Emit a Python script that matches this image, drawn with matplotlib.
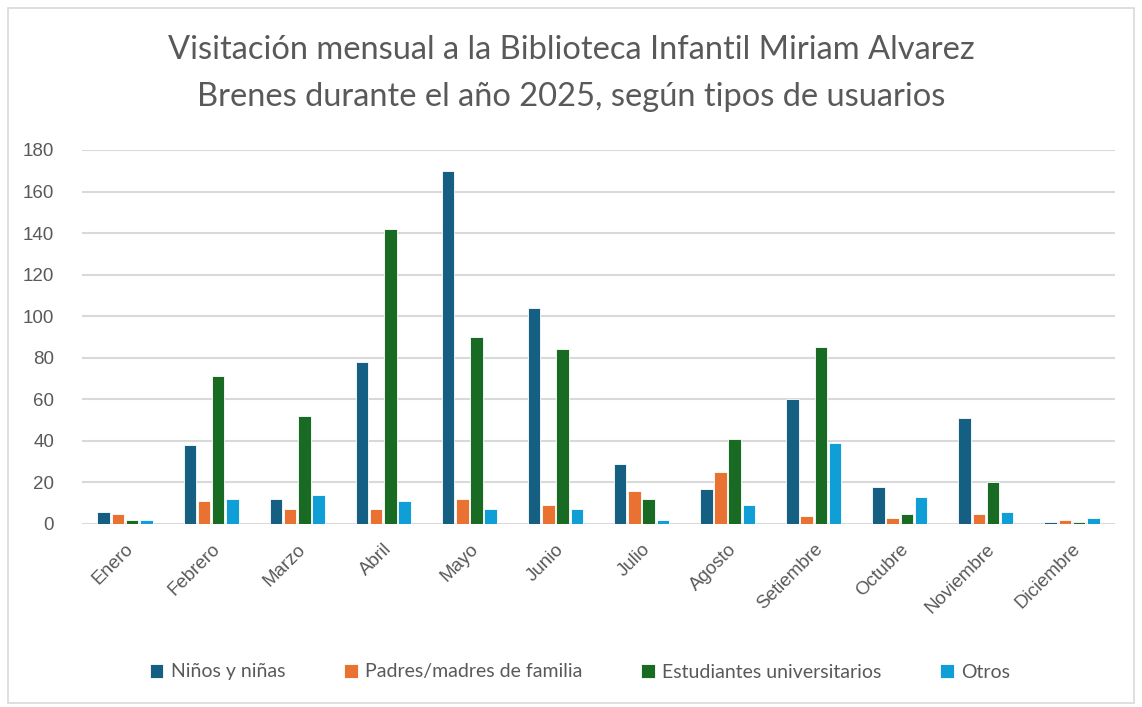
import numpy as np
import matplotlib.pyplot as plt
from matplotlib.patches import Rectangle

months = ["Enero", "Febrero", "Marzo", "Abril", "Mayo", "Junio", "Julio",
          "Agosto", "Setiembre", "Octubre", "Noviembre", "Diciembre"]

ninos = [6, 38, 12, 78, 170, 104, 29, 17, 60, 18, 51, 1]
padres = [5, 11, 7, 7, 12, 9, 16, 25, 4, 3, 5, 2]
estudiantes = [2, 71, 52, 142, 90, 84, 12, 41, 85, 5, 20, 1]
otros = [2, 12, 14, 11, 7, 7, 2, 9, 39, 13, 6, 3]

series_names = ["Niños y niñas", "Padres/madres de familia",
                "Estudiantes universitarios", "Otros"]
colors = ["#156082", "#E97132", "#196B24", "#0F9ED5"]

plt.rcParams["font.family"] = ["Lato", "DejaVu Sans"]
text_color = "#595959"

fig = plt.figure(figsize=(11.42, 7.07), dpi=100)
# light chart border
fig.patches.append(Rectangle((8 / 1142, 0.005), 1 - 16 / 1142, 1 - 12 / 707,
                             transform=fig.transFigure, fill=False,
                             edgecolor="#D9D9D9", linewidth=1.2))

ax = fig.add_axes([82 / 1142, 1 - 524 / 707, (1115 - 82) / 1142, (524 - 150) / 707])

x = np.arange(len(months))
slot = 0.165
width = 0.145
all_series = [ninos, padres, estudiantes, otros]
for i, (vals, name, c) in enumerate(zip(all_series, series_names, colors)):
    ax.bar(x + (i - 1.5) * slot, vals, width=width, color=c, label=name,
           edgecolor="white", linewidth=0.6, zorder=3)

ax.set_xlim(-0.5, len(months) - 0.5)
ax.set_ylim(0, 180)
ax.set_yticks(range(0, 181, 20))
ax.yaxis.grid(True, color="#D9D9D9", linewidth=1.5, zorder=0)
ax.set_axisbelow(True)
for s in ax.spines.values():
    s.set_visible(False)
ax.tick_params(axis="both", length=0, colors=text_color)
ax.tick_params(axis="y", pad=20)
ax.tick_params(axis="x", pad=12)
ax.set_xticks(x)
ax.set_xticklabels(months, rotation=45, ha="right", rotation_mode="anchor")
for lab in ax.get_xticklabels() + ax.get_yticklabels():
    lab.set_fontfamily(["Liberation Sans", "DejaVu Sans"])
    lab.set_fontsize(13.5)

fig.text(0.5, 1 - 50 / 707, "Visitación mensual a la Biblioteca Infantil Miriam Alvarez",
         ha="center", va="center", fontsize=23.5, color=text_color)
fig.text(0.5, 1 - 97 / 707, "Brenes durante el año 2025, según tipos de usuarios",
         ha="center", va="center", fontsize=23.5, color=text_color)

leg = fig.legend(loc="center", bbox_to_anchor=(0.508, 1 - 672 / 707), ncol=4,
                 frameon=False, fontsize=14, handlelength=0.7, handleheight=0.7,
                 handletextpad=0.4, columnspacing=3.0)
for t in leg.get_texts():
    t.set_color(text_color)

fig.savefig("out.png", dpi=100)
